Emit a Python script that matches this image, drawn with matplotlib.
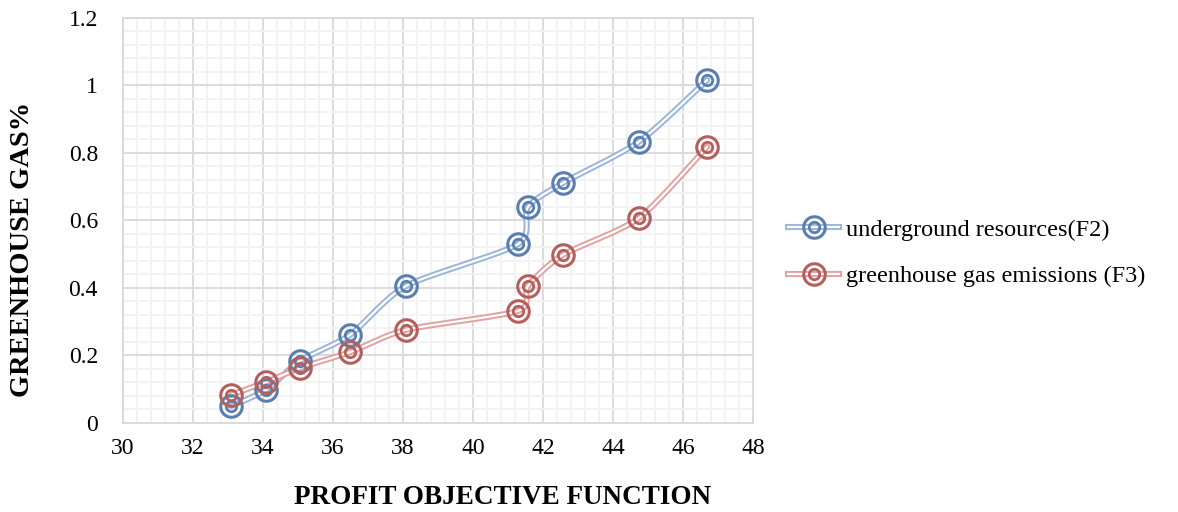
import matplotlib.pyplot as plt
import numpy as np
from matplotlib.ticker import MultipleLocator
from matplotlib.lines import Line2D
from matplotlib.legend_handler import HandlerTuple

# profit objective vs. objective values
profit = [33.09, 34.09, 35.06, 36.49, 38.09, 41.29, 41.57, 42.57, 44.74, 46.69]
f2_underground = [0.050, 0.098, 0.184, 0.261, 0.406, 0.530, 0.640, 0.711, 0.833, 1.016]
f3_greenhouse = [0.083, 0.121, 0.163, 0.210, 0.276, 0.332, 0.406, 0.498, 0.607, 0.818]

labels = ["underground resources(F2)", "greenhouse gas emissions (F3)"]
line_colors = ["#9ab5da", "#e0a3a1"]
edge_colors = ["#5a7fae", "#b65e5b"]


def smooth(xs, ys, n=30, k=8.0):
    # bezier curve through the points, like a spreadsheet "smoothed line"
    xs = np.asarray(xs, float)
    ys = np.asarray(ys, float)
    px = np.concatenate([[xs[0]], xs, [xs[-1]]])
    py = np.concatenate([[ys[0]], ys, [ys[-1]]])
    out_x, out_y = [], []
    t = np.linspace(0, 1, n)
    for i in range(1, len(px) - 2):
        p0x, p1x, p2x, p3x = px[i - 1], px[i], px[i + 1], px[i + 2]
        p0y, p1y, p2y, p3y = py[i - 1], py[i], py[i + 1], py[i + 2]
        c1x = p1x + (p2x - p0x) / k
        c1y = p1y + (p2y - p0y) / k
        c2x = p2x - (p3x - p1x) / k
        c2y = p2y - (p3y - p1y) / k
        bx = (1 - t) ** 3 * p1x + 3 * (1 - t) ** 2 * t * c1x + 3 * (1 - t) * t ** 2 * c2x + t ** 3 * p2x
        by = (1 - t) ** 3 * p1y + 3 * (1 - t) ** 2 * t * c1y + 3 * (1 - t) * t ** 2 * c2y + t ** 3 * p2y
        out_x.extend(bx)
        out_y.extend(by)
    return np.array(out_x), np.array(out_y)


plt.rcParams['font.family'] = ['Liberation Serif', 'DejaVu Serif']

fig = plt.figure(figsize=(11.78, 5.12), dpi=100)
ax = fig.add_axes([0.1044, 0.174, 0.5348, 0.791])

handles = []
for ys, lab, lc, ec in zip([f2_underground, f3_greenhouse], labels, line_colors, edge_colors):
    sx, sy = smooth(profit, ys)
    ax.plot(sx, sy, color=lc, lw=4.4, solid_capstyle='round', zorder=3)
    ax.plot(sx, sy, color='white', lw=1.6, solid_capstyle='round', zorder=3)
    ax.plot(profit, ys, 'o', ms=15.5, mfc='none', mec=ec, mew=2.2, zorder=4)
    ax.plot(profit, ys, 'o', ms=7.5, mfc='none', mec=ec, mew=2.0, zorder=4)
    h = (Line2D([], [], color=lc, lw=4.4),
         Line2D([], [], color='white', lw=1.6),
         Line2D([], [], marker='o', ls='none', ms=15.5, mfc='none', mec=ec, mew=2.2),
         Line2D([], [], marker='o', ls='none', ms=7.5, mfc='none', mec=ec, mew=2.0))
    handles.append(h)

ax.set_xlim(30, 48)
ax.set_ylim(0, 1.2)
ax.xaxis.set_major_locator(MultipleLocator(2))
ax.xaxis.set_minor_locator(MultipleLocator(0.4))
ax.yaxis.set_major_locator(MultipleLocator(0.2))
ax.yaxis.set_minor_locator(MultipleLocator(0.04))
ax.set_yticks([0, 0.2, 0.4, 0.6, 0.8, 1, 1.2])
ax.set_yticklabels(["0", "0.2", "0.4", "0.6", "0.8", "1", "1.2"])

ax.grid(which='minor', color='#f2f2f2', lw=1.3, zorder=0)
ax.grid(which='major', color='#d9d9d9', lw=1.3, zorder=1)
ax.set_axisbelow(True)
for s in ax.spines.values():
    s.set_color('#d9d9d9')
    s.set_linewidth(1.3)
ax.tick_params(which='both', length=0, labelsize=17, colors='black')
ax.tick_params(axis='x', pad=11)
ax.tick_params(axis='y', pad=18)

# axis titles placed in figure coordinates
fig.text(503 / 1178, 1 - 498 / 512, "PROFIT OBJECTIVE FUNCTION", fontsize=19.5,
         fontweight='bold', ha='center', va='center')
fig.text(23 / 1178, 1 - 249 / 512, "GREENHOUSE GAS%", fontsize=20.5,
         fontweight='bold', ha='center', va='center', rotation=90)

fig.legend(handles, labels, loc='center left', bbox_to_anchor=(0.669, 0.506),
           frameon=False, fontsize=17.5, handlelength=2.1, labelspacing=1.0,
           handletextpad=0.3, borderaxespad=0, borderpad=0,
           handler_map={tuple: HandlerTuple(ndivide=1)})

fig.savefig("out.png", dpi=100)
